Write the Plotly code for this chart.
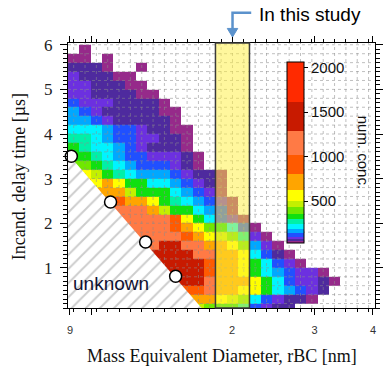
import math
import plotly.graph_objects as go

# ---------------- data ----------------
diam_edges = [89.125, 94.247, 99.655, 105.38, 111.43, 117.83, 124.59, 131.75,
              139.32, 147.32, 155.78, 164.73, 174.18, 184.19, 194.76, 205.95,
              217.77, 230.28, 243.50, 257.49, 272.27, 287.91, 304.45, 321.94,
              340.41, 359.96, 380.63, 402.49]
delay_edges = [0.0, 0.2, 0.4, 0.6, 0.8, 1.0, 1.2, 1.4, 1.6, 1.8, 2.0, 2.2, 2.4,
               2.6, 2.8, 3.0, 3.2, 3.4, 3.6, 3.8, 4.0, 4.2, 4.4, 4.6, 4.8, 5.0,
               5.2, 5.4, 5.6, 5.8, 6.0]

# number concentration per (delay row, diameter column); rows from bottom to top
num_conc_rows = [
    [400, 400, 400, 400, 400, 400, 400, 400, 400, 400, 400, 470, 400, 330, 330, 275, 120, 88, 62, 62],
    [720, 720, 720, 720, 720, 720, 720, 720, 720, 720, 720, 720, 720, 560, 470, 400, 220, 120, 88, 62, 62, 40],
    [910, 910, 910, 910, 910, 910, 910, 910, 910, 910, 910, 910, 1150, 720, 720, 560, 560, 330, 220, 165, 120, 88, 62],
    [1450, 1450, 1450, 1450, 1450, 1450, 1450, 1450, 1450, 1450, 1450, 1450, 1150, 720, 720, 720, 560, 330, 220, 120, 88, 88, 62, 40],
    [1450, 1450, 1450, 1450, 1450, 1450, 1450, 1450, 1450, 1450, 1450, 1450, 910, 720, 720, 560, 330, 220, 165, 120, 88, 88, 40],
    [1450, 1450, 1450, 1450, 1450, 1450, 1450, 1450, 1450, 1450, 1450, 1450, 910, 720, 720, 560, 330, 220, 120, 88, 40],
    [1450, 1450, 1450, 1450, 1450, 1450, 1450, 1450, 1450, 1450, 1450, 1150, 1150, 720, 720, 560, 220, 120, 62, 40],
    [1150, 1150, 1150, 1150, 1150, 1150, 1150, 1150, 1450, 1450, 1150, 1150, 720, 720, 560, 400, 165, 88, 40],
    [1150, 1150, 1150, 1150, 1150, 1150, 1150, 1150, 1150, 1150, 910, 720, 560, 470, 400, 275, 88, 40],
    [1150, 1150, 1150, 1150, 1150, 1150, 1150, 1150, 1150, 910, 720, 560, 400, 330, 220, 120, 40],
    [1150, 1150, 1150, 1150, 1150, 1150, 1150, 1150, 1150, 910, 560, 330, 220, 120, 88, 40],
    [1150, 1150, 1150, 1150, 1150, 1150, 1150, 720, 470, 330, 330, 220, 165, 120, 40],
    [910, 910, 910, 910, 910, 720, 720, 560, 330, 275, 220, 165, 120, 88, 40],
    [720, 720, 720, 720, 720, 470, 330, 330, 330, 220, 165, 120, 88, 40],
    [720, 720, 560, 720, 560, 330, 330, 220, 220, 165, 120, 88, 62, 40],
    [560, 560, 470, 330, 275, 220, 165, 165, 165, 120, 88, 62, 62, 40],
    [400, 400, 330, 275, 220, 165, 120, 120, 120, 88, 62, 40],
    [330, 330, 275, 220, 165, 120, 120, 88, 88, 88, 62, 40],
    [330, 275, 220, 220, 165, 120, 88, 62, 62, 62, 40],
    [275, 275, 220, 165, 120, 120, 88, 88, 62, 62, 40],
    [220, 220, 220, 165, 120, 120, 88, 62, 62, 40, 40],
    [165, 165, 120, 88, 62, 62, 62, 62, 62, 40],
    [165, 120, 88, 62, 62, 62, 62, 62, 40, 40],
    [120, 88, 88, 88, 62, 62, 62, 62, 40],
    [88, 88, 62, 62, 62, 62, 40, 40],
    [88, 88, 62, 62, 62, 40, 40],
    [88, 62, 62, 62, 40, 40],
    [62, 62, 62, 40, None, None, 40],
    [40, 40, None, 40],
    [None, 40],
]

study_range = [184.19, 217.77]           # "In this study" diameter band
unknown_diam = [89.125, 89.125, 172.0]   # detection-limit region
unknown_delay = [3.55, 0.1, 0.1]
limit_diam = [90.6, 109.9, 130.6, 151.4]   # white circles
limit_delay = [3.50, 2.475, 1.58, 0.81]

cbar_bounds = [29, 50, 75, 100, 142, 191, 247, 303, 360, 434, 501, 629, 809,
               1022, 1284, 1613, 2063]
cbar_colors = ["#962a8a", "#4e2a9e", "#6c30e0", "#2050ff", "#00a8ff", "#00f4ff",
               "#00f0a8", "#10e010", "#70e800", "#c4f000", "#ffff00", "#ffa500",
               "#ff5a00", "#ff7a45", "#c81a00", "#ff2a00"]
cbar_ticks = [500, 1000, 1500, 2000]

# ---------------- build ----------------
ncol = len(diam_edges) - 1
z = [row + [None] * (ncol - len(row)) for row in num_conc_rows]

zmin, zmax = cbar_bounds[0], cbar_bounds[-1]
colorscale = []
for i, c in enumerate(cbar_colors):
    lo = (cbar_bounds[i] - zmin) / (zmax - zmin)
    hi = (cbar_bounds[i + 1] - zmin) / (zmax - zmin)
    colorscale.append([lo, c])
    colorscale.append([hi, c])

serif = "Liberation Serif, Times New Roman, serif"
sans = "Liberation Sans, Arial, sans-serif"

fig = go.Figure()

fig.add_trace(go.Heatmap(
    x=diam_edges, y=delay_edges, z=z, zmin=zmin, zmax=zmax,
    colorscale=colorscale, hoverinfo="skip",
    colorbar=dict(
        x=0.7143, xanchor="left", xpad=0, ypad=0,
        y=0.5868, yanchor="middle", lenmode="pixels", len=181,
        thickness=17, outlinecolor="black", outlinewidth=1,
        tickvals=cbar_ticks, ticks="outside", ticklen=4, tickcolor="black",
        tickfont=dict(family=sans, size=15, color="#111"),
    ),
))

# dotted grid at column centres / row edges
centers = [math.sqrt(diam_edges[i] * diam_edges[i + 1]) for i in range(ncol)]
gx, gy = [], []
for c in centers:
    gx += [c, c, None]
    gy += [0.1, 6.04, None]
for d in delay_edges[1:]:
    gx += [diam_edges[0], diam_edges[-1], None]
    gy += [d, d, None]
fig.add_trace(go.Scatter(x=gx, y=gy, mode="lines", hoverinfo="skip",
                         line=dict(color="rgba(140,140,140,0.55)", width=1, dash="dot"),
                         showlegend=False))

# hatched unknown region
fig.add_trace(go.Scatter(
    x=unknown_diam, y=unknown_delay, mode="lines", fill="toself",
    line=dict(width=0), fillcolor="white", hoverinfo="skip", showlegend=False,
    fillpattern=dict(shape="/", fgcolor="#9a9a9a", bgcolor="white", size=10, solidity=0.2),
))

# white circles
fig.add_trace(go.Scatter(
    x=limit_diam, y=limit_delay, mode="markers", hoverinfo="skip", showlegend=False,
    cliponaxis=False,
    marker=dict(size=12, color="white", line=dict(color="black", width=1.5)),
))

# study band
fig.add_shape(type="rect", xref="x", yref="paper", x0=study_range[0], x1=study_range[1],
              y0=0, y1=1, fillcolor="rgba(255,240,60,0.5)",
              line=dict(color="#3a3a3a", width=1.5), layer="above")

# bent arrow pointing to the band (paper coordinates)
arrow_col = "#5b92cc"
ax0 = 0.5359   # band centre in paper x
fig.add_shape(type="path", xref="paper", yref="paper",
              path=f"M 0.5968,1.114 L {ax0},1.114 L {ax0},1.05",
              line=dict(color=arrow_col, width=2.5))
fig.add_shape(type="path", xref="paper", yref="paper",
              path=f"M {ax0 - 0.017},1.055 L {ax0 + 0.017},1.055 L {ax0},1.0226 Z",
              fillcolor=arrow_col, line=dict(color=arrow_col, width=1))
fig.add_annotation(x=0.616, y=1.1094, xref="paper", yref="paper", text="In this study",
                   showarrow=False, xanchor="left", yanchor="middle",
                   font=dict(family=sans, size=19, color="black"))

fig.add_annotation(x=0.1397, y=0.0943, xref="paper", yref="paper", text="unknown",
                   showarrow=False, xanchor="center", yanchor="middle",
                   font=dict(family=sans, size=19, color="#111133"))

fig.add_annotation(x=0.9619, y=0.5887, xref="paper", yref="paper", text="num. conc.",
                   showarrow=False, textangle=90, xanchor="center", yanchor="middle",
                   font=dict(family=sans, size=15, color="#111"))

fig.add_annotation(x=100, xref="x", y=-0.1283, yref="paper", text="100",
                   showarrow=False, xanchor="center", yanchor="middle",
                   font=dict(family=serif, size=18, color="#111"))
fig.add_annotation(x=0.5016, y=-0.1811, xref="paper", yref="paper",
                   text="Mass Equivalent Diameter, rBC [nm]", showarrow=False,
                   xanchor="center", yanchor="middle",
                   font=dict(family=serif, size=18, color="#111"))
fig.add_annotation(x=-0.1587, y=0.4943, xref="paper", yref="paper",
                   text="Incand. delay time [µs]", showarrow=False, textangle=-90,
                   xanchor="center", yanchor="middle",
                   font=dict(family=serif, size=18, color="#111"))

fig.update_layout(
    width=390, height=366,
    margin=dict(l=68, r=7, t=43, b=58, pad=0),
    paper_bgcolor="white", plot_bgcolor="white",
    showlegend=False,
    xaxis=dict(type="log", range=[math.log10(89.125), math.log10(404.0)],
               tickvals=[90, 100, 200, 300, 400], ticktext=["9", "", "2", "3", "4"],
               ticks="outside", ticklen=6, tickcolor="black", tickwidth=1,
               showgrid=False, zeroline=False, showline=True, linecolor="black",
               linewidth=1.2, mirror="ticks", ticklabelstandoff=6,
               tickfont=dict(family=sans, size=11, color="#333"),
               minor=dict(tickvals=centers, ticks="outside", ticklen=3,
                          tickcolor="black", showgrid=False)),
    yaxis=dict(range=[0.1, 6.04], tickvals=[1, 2, 3, 4, 5, 6],
               ticks="outside", ticklen=7, tickcolor="black", tickwidth=1,
               showgrid=False, zeroline=False, showline=True, linecolor="black",
               linewidth=1.2, mirror="ticks", ticklabelstandoff=4,
               tickfont=dict(family=serif, size=17, color="#222"),
               minor=dict(dtick=0.1, tick0=0, ticks="outside", ticklen=4,
                          tickcolor="black", showgrid=False)),
)

fig.write_html("out.html")
